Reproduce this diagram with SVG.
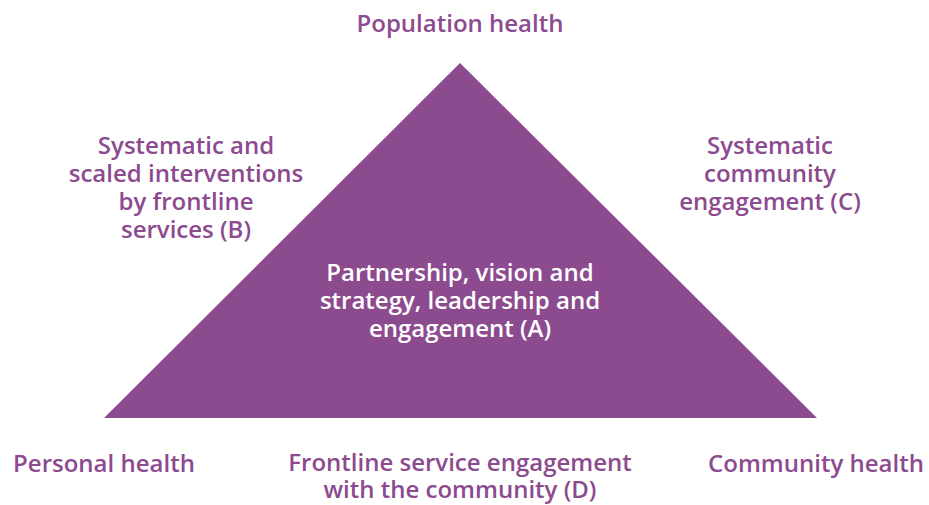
<svg xmlns="http://www.w3.org/2000/svg" width="929" height="505" viewBox="0 0 929 505">
<style>
text{font-family:"Open Sans","Liberation Sans",sans-serif;font-weight:600;font-size:24px;text-anchor:middle;fill:#8C4A8F}
.w{fill:#ffffff}
</style>
<rect width="929" height="505" fill="#ffffff"/>
<g id="triangle">
<polygon points="460,63 104,418 817,418" fill="#8C4A8F"/>
<text class="w" x="460" y="281">Partnership, vision and</text>
<text class="w" x="460" y="309">strategy, leadership and</text>
<text class="w" x="460" y="337">engagement (A)</text>
</g>
<g id="top"><text x="460" y="32">Population health</text></g>
<g id="left">
<text x="186" y="154">Systematic and</text>
<text x="186" y="182">scaled interventions</text>
<text x="186" y="210">by frontline</text>
<text x="186" y="238">services (B)</text>
</g>
<g id="right">
<text x="770" y="154">Systematic</text>
<text x="770" y="182">community</text>
<text x="770" y="210">engagement (C)</text>
</g>
<g id="personal"><text x="104" y="472">Personal health</text></g>
<g id="bottom">
<text x="460" y="471">Frontline service engagement</text>
<text x="460" y="498">with the community (D)</text>
</g>
<g id="community"><text x="816" y="472">Community health</text></g>
<g id="connectors"></g>
</svg>
